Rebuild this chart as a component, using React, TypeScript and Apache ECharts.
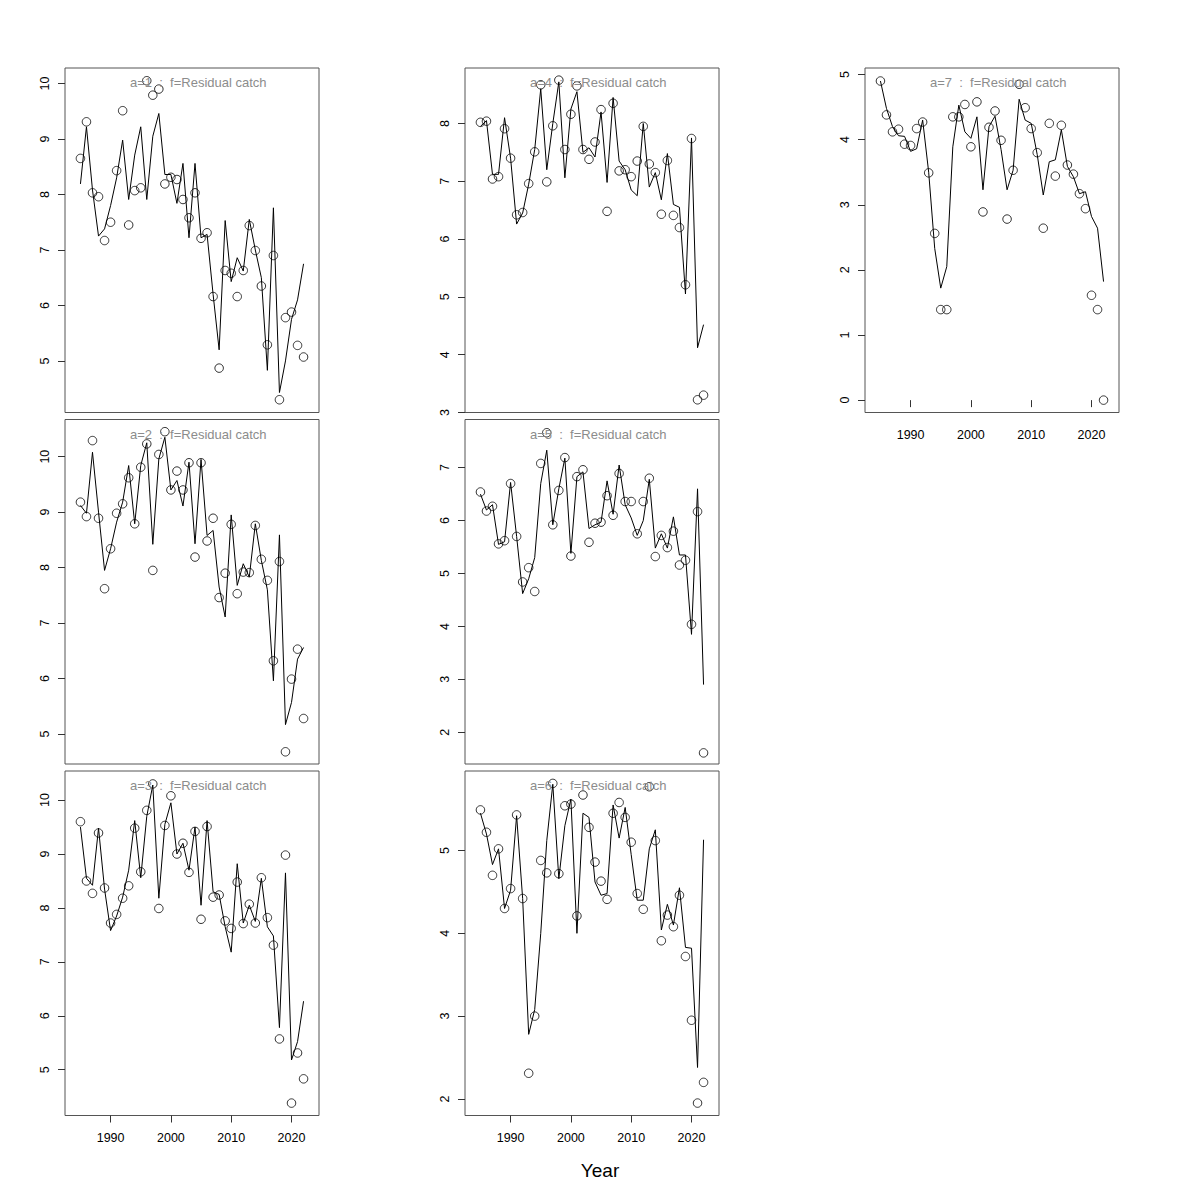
import React, { useEffect, useRef } from "react";
import * as echarts from "echarts";

const years = [
  1985, 1986, 1987, 1988, 1989, 1990, 1991, 1992, 1993, 1994,
  1995, 1996, 1997, 1998, 1999, 2000, 2001, 2002, 2003, 2004,
  2005, 2006, 2007, 2008, 2009, 2010, 2011, 2012, 2013, 2014,
  2015, 2016, 2017, 2018, 2019, 2020, 2021, 2022,
];

const xTickLabels = [1990, 2000, 2010, 2020];

// a=1
const obs1 = [8.65, 9.31, 8.03, 7.96, 7.17, 7.5, 8.43, 9.51, 7.45, 8.07, 8.12, 10.05, 9.79, 9.9, 8.19, 8.31, 8.27, 7.91, 7.58, 8.03, 7.21, 7.31, 6.16, 4.87, 6.63, 6.58, 6.16, 6.63, 7.44, 6.99, 6.35, 5.29, 6.9, 4.3, 5.78, 5.88, 5.28, 5.07];
const fit1 = [8.19, 9.22, 8.08, 7.25, 7.38, 7.8, 8.3, 8.98, 7.91, 8.71, 9.22, 7.91, 9.05, 9.46, 8.36, 8.36, 7.84, 8.56, 7.22, 8.56, 7.22, 7.28, 6.2, 5.2, 7.53, 6.43, 6.86, 6.62, 7.55, 7.0, 6.5, 4.83, 7.76, 4.43, 5.0, 5.75, 6.1, 6.75];
// a=2
const obs2 = [9.18, 8.92, 10.29, 8.89, 7.62, 8.34, 8.98, 9.15, 9.62, 8.79, 9.81, 10.23, 7.95, 10.04, 10.45, 9.4, 9.74, 9.4, 9.89, 8.19, 9.89, 8.48, 8.89, 7.46, 7.9, 8.78, 7.53, 7.92, 7.91, 8.76, 8.15, 7.77, 6.32, 8.11, 4.68, 5.99, 6.53, 5.28];
const fit2 = [9.12, 8.98, 10.08, 9.0, 7.95, 8.34, 8.82, 9.18, 9.84, 8.79, 9.84, 10.25, 8.42, 9.96, 10.35, 9.4, 9.57, 9.11, 9.9, 8.43, 9.95, 8.58, 8.67, 7.65, 7.11, 8.95, 7.68, 8.07, 7.83, 8.79, 8.13, 7.6, 5.96, 8.59, 5.17, 5.57, 6.35, 6.56];
// a=3
const obs3 = [9.6, 8.5, 8.27, 9.39, 8.37, 7.72, 7.88, 8.18, 8.41, 9.48, 8.67, 9.81, 10.3, 7.99, 9.53, 10.08, 9.0, 9.2, 8.66, 9.42, 7.79, 9.51, 8.2, 8.24, 7.76, 7.62, 8.48, 7.71, 8.07, 7.72, 8.56, 7.82, 7.31, 5.57, 8.98, 4.38, 5.31, 4.83];
const fit3 = [9.5, 8.55, 8.42, 9.48, 8.35, 7.58, 7.85, 8.2, 8.7, 9.62, 8.56, 9.7, 10.28, 8.18, 9.55, 9.95, 9.0, 9.2, 8.7, 9.5, 8.05, 9.62, 8.3, 8.25, 7.65, 7.18, 8.82, 7.72, 8.05, 7.75, 8.55, 7.65, 7.48, 5.78, 8.65, 5.18, 5.52, 6.27];
// a=4
const obs4 = [8.02, 8.04, 7.04, 7.08, 7.91, 7.4, 6.42, 6.46, 6.96, 7.51, 8.67, 6.99, 7.96, 8.75, 7.55, 8.16, 8.65, 7.55, 7.38, 7.68, 8.24, 6.48, 8.35, 7.18, 7.2, 7.08, 7.35, 7.95, 7.3, 7.15, 6.43, 7.36, 6.41, 6.2, 5.21, 7.74, 3.22, 3.3];
const fit4 = [7.95, 8.05, 7.12, 7.12, 8.1, 7.4, 6.26, 6.45, 6.95, 7.55, 8.6, 7.2, 8.0, 8.72, 7.06, 8.25, 8.55, 7.5, 7.58, 7.42, 8.2, 6.98, 8.45, 7.35, 7.2, 6.85, 6.75, 8.0, 6.9, 7.15, 6.68, 7.48, 6.6, 6.55, 5.05, 7.75, 4.12, 4.52];
// a=5
const obs5 = [6.54, 6.18, 6.27, 5.56, 5.62, 6.7, 5.7, 4.84, 5.11, 4.66, 7.08, 7.66, 5.92, 6.57, 7.19, 5.33, 6.83, 6.96, 5.59, 5.95, 5.97, 6.47, 6.1, 6.89, 6.36, 6.36, 5.75, 6.36, 6.8, 5.32, 5.72, 5.49, 5.8, 5.16, 5.25, 4.04, 6.17, 1.61];
const fit5 = [6.5, 6.2, 6.3, 5.55, 5.6, 6.72, 5.7, 4.62, 4.9, 5.3, 6.7, 7.33, 5.92, 6.6, 7.18, 5.38, 6.83, 6.92, 5.85, 5.92, 5.97, 6.75, 6.12, 7.05, 6.3, 6.05, 5.72, 6.0, 6.78, 5.48, 5.75, 5.48, 6.07, 5.35, 5.35, 3.85, 6.6, 2.9];
// a=6
const obs6 = [5.49, 5.22, 4.7, 5.02, 4.3, 4.54, 5.43, 4.42, 2.31, 3.0, 4.88, 4.73, 5.81, 4.72, 5.54, 5.56, 4.21, 5.67, 5.28, 4.86, 4.63, 4.41, 5.45, 5.58, 5.4, 5.1, 4.48, 4.29, 5.77, 5.12, 3.91, 4.22, 4.08, 4.46, 3.72, 2.95, 1.95, 2.2];
const fit6 = [5.45, 5.2, 4.83, 5.02, 4.3, 4.52, 5.42, 4.42, 2.78, 3.08, 4.0, 5.12, 5.8, 4.66, 5.3, 5.62, 4.0, 5.45, 5.4, 4.62, 4.46, 4.48, 5.55, 5.15, 5.52, 4.95, 4.4, 4.4, 5.02, 5.25, 4.04, 4.35, 4.1, 4.55, 3.83, 3.82, 2.38, 5.13];
// a=7
const obs7 = [4.9, 4.38, 4.12, 4.16, 3.93, 3.91, 4.17, 4.27, 3.49, 2.56, 1.39, 1.39, 4.35, 4.35, 4.54, 3.89, 4.58, 2.89, 4.19, 4.44, 3.99, 2.78, 3.53, 4.85, 4.49, 4.17, 3.8, 2.64, 4.25, 3.44, 4.22, 3.61, 3.47, 3.17, 2.94, 1.61, 1.39, 0.0];
const fit7 = [4.9, 4.48, 4.2, 4.06, 4.05, 3.82, 3.86, 4.3, 3.5, 2.33, 1.72, 2.05, 3.89, 4.53, 4.12, 4.02, 4.35, 3.23, 4.2, 4.36, 3.85, 3.23, 3.53, 4.62, 4.3, 4.25, 3.77, 3.15, 3.66, 3.69, 4.15, 3.59, 3.43, 3.17, 3.2, 2.82, 2.64, 1.82];

const panelNames = ["a=1", "a=2", "a=3", "a=4", "a=5", "a=6", "a=7"];
const obsAll = [obs1, obs2, obs3, obs4, obs5, obs6, obs7];
const fitAll = [fit1, fit2, fit3, fit4, fit5, fit6, fit7];
const yTickLabels = [
  [5, 6, 7, 8, 9, 10],
  [5, 6, 7, 8, 9, 10],
  [5, 6, 7, 8, 9, 10],
  [3, 4, 5, 6, 7, 8],
  [2, 3, 4, 5, 6, 7],
  [2, 3, 4, 5],
  [0, 1, 2, 3, 4, 5],
];

// layout (not data)
const yRanges: [number, number][] = [
  [4.07, 10.28],
  [4.46, 10.67],
  [4.15, 10.54],
  [3.0, 8.96],
  [1.4, 7.91],
  [1.8, 5.96],
  [-0.19, 5.1],
];
const colLeft = [65, 465, 865];
const rowTop = [68, 419.5, 771];
const panelPos = [
  [0, 0], [0, 1], [0, 2],
  [1, 0], [1, 1], [1, 2],
  [2, 0],
];
const showX = [false, false, true, false, false, true, true];
const PW = 254;
const PH = 344.5;
const FONT = "'Liberation Sans', Arial, Helvetica, sans-serif";

export default function App() {
  const ref = useRef<HTMLDivElement>(null);
  useEffect(() => {
    document.body.style.margin = "0";
    const chart = echarts.init(ref.current as HTMLDivElement, null, { renderer: "svg" });
    const grid: any[] = [];
    const xAxis: any[] = [];
    const yAxis: any[] = [];
    const series: any[] = [];
    const title: any[] = [];
    panelNames.forEach((name, i) => {
      const [c, r] = panelPos[i];
      const left = colLeft[c];
      const top = rowTop[r];
      grid.push({
        left, top, width: PW, height: PH,
        show: true, borderColor: "#555", borderWidth: 1, backgroundColor: "transparent",
        containLabel: false,
      });
      xAxis.push({
        gridIndex: i, type: "value", min: 1982.44, max: 2024.56,
        axisLine: { show: false }, splitLine: { show: false },
        axisTick: { show: showX[i], customValues: xTickLabels, length: 7, lineStyle: { color: "#333" } },
        axisLabel: {
          show: showX[i], customValues: xTickLabels, margin: 16, fontSize: 12.5, color: "#000", fontFamily: FONT,
          formatter: (v: number) => String(v),
        },
      });
      yAxis.push({
        gridIndex: i, type: "value", min: yRanges[i][0], max: yRanges[i][1],
        axisLine: { show: false }, splitLine: { show: false },
        axisTick: { show: true, customValues: yTickLabels[i], length: 7, lineStyle: { color: "#333" } },
        axisLabel: {
          show: true, customValues: yTickLabels[i], rotate: 90, margin: 14, fontSize: 12.5, color: "#000", fontFamily: FONT,
          formatter: (v: number) => String(v),
        },
      });
      series.push({
        type: "line", xAxisIndex: i, yAxisIndex: i,
        data: years.map((y, k) => [y, fitAll[i][k]]),
        showSymbol: false, symbol: "none", silent: true,
        lineStyle: { color: "#000", width: 1 },
      });
      series.push({
        type: "scatter", xAxisIndex: i, yAxisIndex: i,
        data: years.map((y, k) => [y, obsAll[i][k]]),
        symbol: "circle", symbolSize: 8.5, silent: true,
        itemStyle: { color: "rgba(0,0,0,0)", borderColor: "#000", borderWidth: 1 },
      });
      title.push({
        text: name + "  :  f=Residual catch",
        left: left + 65, top: top + 8,
        textStyle: { fontSize: 13, fontWeight: "normal", color: "#8c8c8c", fontFamily: FONT },
        padding: 0,
      });
    });
    title.push({
      text: "Year", left: "center", top: 1161, padding: 0,
      textStyle: { fontSize: 19, fontWeight: "normal", color: "#000", fontFamily: FONT },
    });
    chart.setOption({
      animation: false,
      backgroundColor: "#fff",
      title, grid, xAxis, yAxis, series,
    });
    return () => chart.dispose();
  }, []);
  return <div ref={ref} style={{ width: 1200, height: 1200 }} />;
}
